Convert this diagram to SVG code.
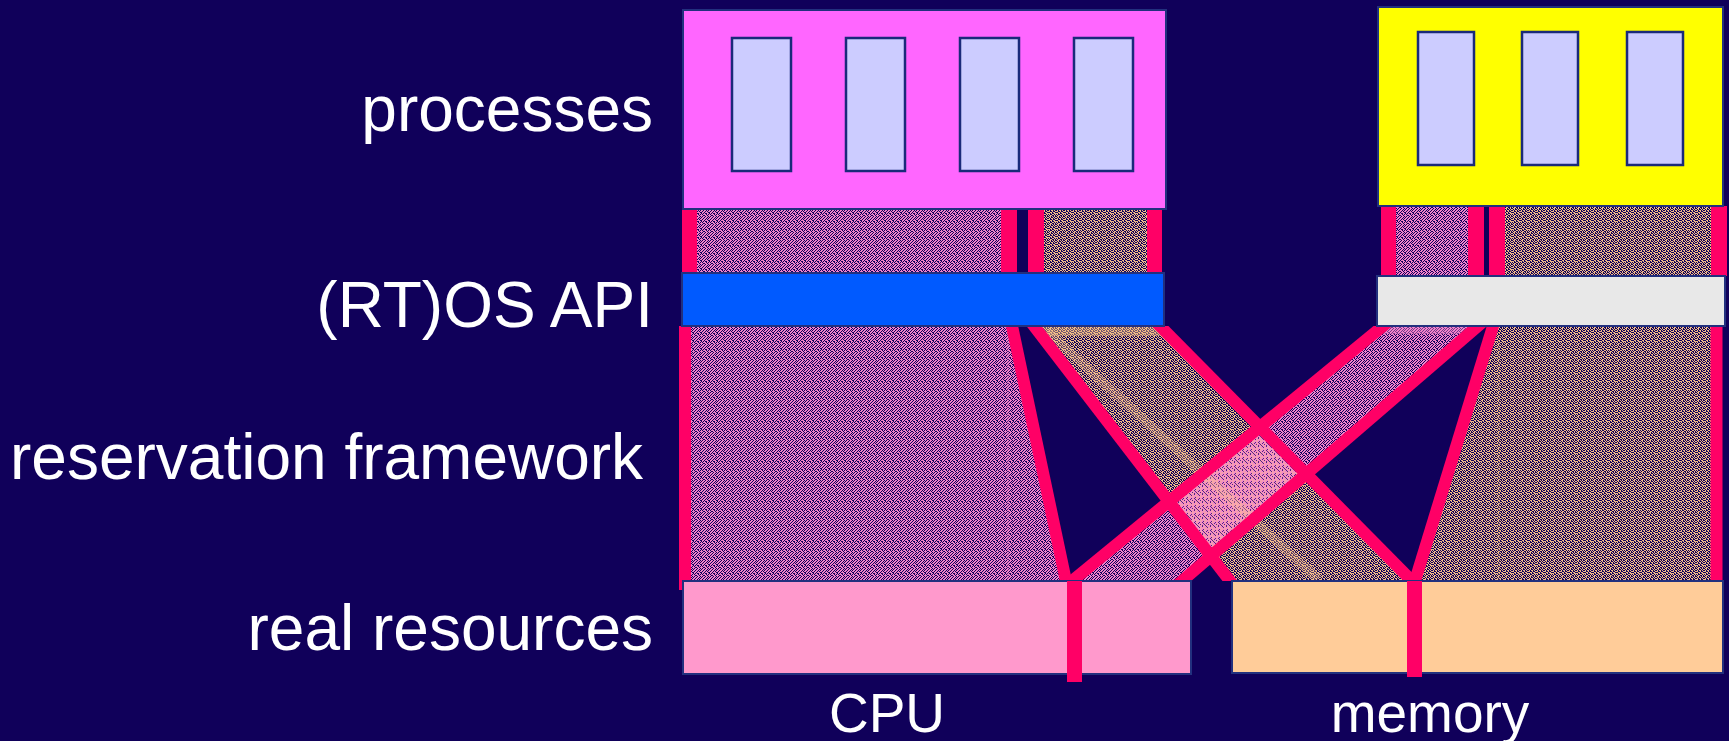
<svg xmlns="http://www.w3.org/2000/svg" width="1729" height="741" viewBox="0 0 1729 741">
  <style>
    .lbl { font-family: "Liberation Sans", Arial, sans-serif; font-size: 64px; fill: #ffffff; }
    .res { font-size: 55px; text-anchor: middle; }
    .edge { fill: none; stroke: #FF0066; stroke-width: 12; }
    .bar { fill: #FF0066; }
    .task { fill: #CCCCFF; stroke: #1A2A7A; stroke-width: 2.5; }
    .frame { stroke: #22307E; stroke-width: 2; }
    .cpuShare { fill: url(#pinkDots); }
    .memShare { fill: url(#tanDots); }
  </style>
  <defs>
    <!-- dithered fills for the resource shares -->
    <pattern id="pinkDots" x="0" y="0" width="8" height="8" patternUnits="userSpaceOnUse">
      <path shape-rendering="crispEdges" fill="#F282CA" d="M0 0h1v1h-1z M2 0h2v1h-2z M5 0h1v1h-1z M7 0h1v1h-1z M1 1h2v1h-2z M4 1h1v1h-1z M6 1h2v1h-2z M0 2h2v1h-2z M3 2h1v1h-1z M5 2h2v1h-2z M0 3h1v1h-1z M2 3h1v1h-1z M4 3h2v1h-2z M7 3h1v1h-1z M1 4h3v1h-3z M6 4h2v1h-2z M0 5h1v1h-1z M3 5h2v1h-2z M6 5h1v1h-1z M0 6h2v1h-2z M3 6h1v1h-1z M5 6h1v1h-1z M7 6h1v1h-1z M1 7h2v1h-2z M4 7h3v1h-3z"/>
    </pattern>
    <pattern id="tanDots" x="0" y="0" width="8" height="8" patternUnits="userSpaceOnUse">
      <path shape-rendering="crispEdges" fill="#F0BC86" d="M1 0h2v1h-2z M4 0h1v1h-1z M6 0h1v1h-1z M0 1h1v1h-1z M2 1h1v1h-1z M5 1h1v1h-1z M7 1h1v1h-1z M1 2h1v1h-1z M3 2h2v1h-2z M6 2h1v1h-1z M0 3h2v1h-2z M4 3h1v1h-1z M7 3h1v1h-1z M2 4h2v1h-2z M5 4h2v1h-2z M0 5h2v1h-2z M3 5h1v1h-1z M6 5h2v1h-2z M1 6h1v1h-1z M4 6h2v1h-2z M7 6h1v1h-1z M0 7h1v1h-1z M2 7h2v1h-2z M6 7h1v1h-1z"/>
    </pattern>
    <clipPath id="framework">
      <rect x="0" y="326" width="1729" height="255"/>
    </clipPath>
  </defs>

  <!-- backdrop -->
  <rect width="1729" height="741" fill="#10005A"/>

  <!-- shares flowing from the process groups down to the resources -->
  <g id="connectors">
    <!-- between process groups and API -->
    <rect class="cpuShare" x="697" y="209" width="304" height="64"/>
    <rect class="memShare" x="1044" y="209" width="103" height="64"/>
    <rect class="cpuShare" x="1396" y="206" width="72" height="70"/>
    <rect class="memShare" x="1505" y="206" width="206" height="70"/>
    <rect class="bar" x="682" y="209" width="15" height="64"/>
    <rect class="bar" x="1001" y="209" width="16" height="64"/>
    <rect class="bar" x="1028" y="209" width="16" height="64"/>
    <rect class="bar" x="1147" y="209" width="15" height="64"/>
    <rect class="bar" x="1381" y="206" width="15" height="70"/>
    <rect class="bar" x="1468" y="206" width="16" height="70"/>
    <rect class="bar" x="1489" y="206" width="16" height="70"/>
    <rect class="bar" x="1711" y="206" width="16" height="70"/>

    <!-- reservation framework -->
    <polygon class="cpuShare" points="690,326 1012,326 1066,581 690,581"/>
    <polygon class="memShare" points="1493,326 1717,326 1717,581 1415,581"/>
    <polygon class="memShare" points="1034,326 1160,326 1412,581 1230,581"/>
    <polygon class="cpuShare" points="1383,326 1478,326 1182,581 1072,581"/>
    <!-- where the two crossing shares overlap -->
    <polygon points="1170,497 1260,423 1306,477 1212,553" fill="#FF9ACC" opacity="0.28"/>
    <line x1="1008" y1="326" x2="1008" y2="580" stroke="#F282CA" stroke-width="1.5" opacity="0.35"/>
    <line x1="1499" y1="340" x2="1499" y2="580" stroke="#F0BC86" stroke-width="1.5" opacity="0.25"/>
    <polygon points="1036,326 1160,326 1166,336 1040,336" fill="#F0BC86" opacity="0.45"/>
    <polygon points="1383,326 1478,326 1470,334 1376,334" fill="#F282CA" opacity="0.45"/>
    <line x1="1047" y1="331" x2="1318" y2="579" stroke="#FFC890" stroke-width="9" opacity="0.3"/>

    <rect class="bar" x="679" y="326" width="12" height="264"/>
    <g clip-path="url(#framework)">
      <line class="edge" x1="1009.9" y1="316" x2="1068.1" y2="591"/>
      <line class="edge" x1="1026.3" y1="316" x2="1237.7" y2="591" stroke-width="11"/>
      <line class="edge" x1="1150.1" y1="316" x2="1421.9" y2="591" stroke-width="11"/>
      <line class="edge" x1="1395.2" y1="316" x2="1059.8" y2="591" stroke-width="11"/>
      <line class="edge" x1="1489.6" y1="316" x2="1170.4" y2="591" stroke-width="11"/>
      <line class="edge" x1="1496.1" y1="316" x2="1411.9" y2="591"/>
      <line class="edge" x1="1716.5" y1="316" x2="1716.5" y2="591" stroke-width="11"/>
    </g>
  </g>

  <!-- process groups -->
  <g id="processes-left">
    <rect class="frame" x="683" y="10" width="483" height="199" fill="#FF66FF"/>
    <rect class="task" x="732" y="38" width="59" height="133"/>
    <rect class="task" x="846" y="38" width="59" height="133"/>
    <rect class="task" x="960" y="38" width="59" height="133"/>
    <rect class="task" x="1074" y="38" width="59" height="133"/>
  </g>
  <g id="processes-right">
    <rect class="frame" x="1378" y="7" width="345" height="199" fill="#FFFF00"/>
    <rect class="task" x="1418" y="32" width="56" height="133"/>
    <rect class="task" x="1522" y="32" width="56" height="133"/>
    <rect class="task" x="1627" y="32" width="56" height="133"/>
  </g>

  <!-- OS interfaces -->
  <g id="api-left">
    <rect class="frame" x="682" y="273" width="482" height="53" fill="#005AFF"/>
  </g>
  <g id="api-right">
    <rect class="frame" x="1377" y="276" width="348" height="50" fill="#E8E8E8"/>
  </g>

  <!-- real resources, each split between the two groups -->
  <g id="cpu">
    <rect class="frame" x="683" y="581" width="508" height="93" fill="#FF99CC"/>
    <rect class="bar" x="1067" y="581" width="15" height="101"/>
    <text class="lbl res" x="887" y="732">CPU</text>
  </g>
  <g id="memory">
    <rect class="frame" x="1232" y="581" width="491" height="92" fill="#FFCC99"/>
    <rect class="bar" x="1407" y="581" width="15" height="96"/>
    <text class="lbl res" x="1430" y="732">memory</text>
  </g>

  <!-- layer names -->
  <g id="layer-labels">
    <text class="lbl" x="653" y="131" text-anchor="end">processes</text>
    <text class="lbl" x="653" y="327" text-anchor="end">(RT)OS API</text>
    <text class="lbl" x="10" y="479">reservation framework</text>
    <text class="lbl" x="653" y="650" text-anchor="end">real resources</text>
  </g>
</svg>
